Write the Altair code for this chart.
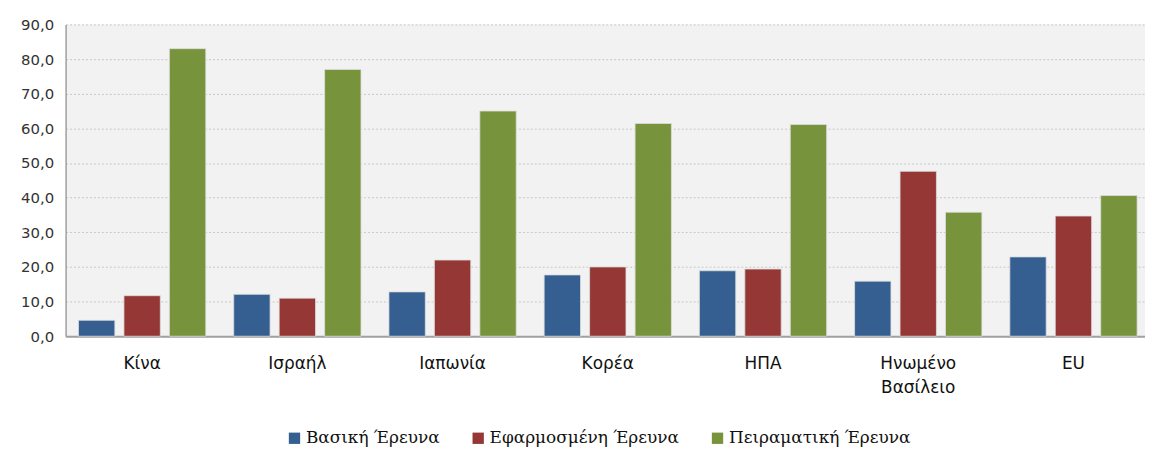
import altair as alt
import pandas as pd

countries = ["Κίνα", "Ισραήλ", "Ιαπωνία", "Κορέα", "ΗΠΑ", "Ηνωμένο Βασίλειο", "EU"]
series = ["Βασική Έρευνα", "Εφαρμοσμένη Έρευνα", "Πειραματική Έρευνα"]
basic = [4.6, 12.1, 12.8, 17.7, 18.9, 15.9, 22.9]
applied = [11.7, 11.0, 22.0, 20.0, 19.4, 47.6, 34.7]
experimental = [83.0, 77.0, 65.0, 61.4, 61.1, 35.8, 40.6]
colors = ["#365F91", "#953735", "#77933C"]

rows = []
for s, vals in zip(series, [basic, applied, experimental]):
    for c, v in zip(countries, vals):
        rows.append({"country": c, "series": s, "value": v})
df = pd.DataFrame(rows)

chart = alt.Chart(df).mark_bar(stroke="#DDDDDD", strokeWidth=0.8).encode(
    x=alt.X("country:N", sort=countries, title=None,
            scale=alt.Scale(paddingInner=0.18, paddingOuter=0.067, align=0.62),
            axis=alt.Axis(labelAngle=0, labelFont="DejaVu Sans", labelFontSize=17,
                          labelColor="#111111", labelPadding=19, ticks=False,
                          domainColor="#A0A0A0", domainWidth=2, labelLineHeight=25,
                          labelExpr="datum.label == 'Ηνωμένο Βασίλειο' ? ['Ηνωμένο', 'Βασίλειο'] : datum.label")),
    xOffset=alt.XOffset("series:N", sort=series, scale=alt.Scale(paddingInner=0.2)),
    y=alt.Y("value:Q", title=None,
            scale=alt.Scale(domain=[0, 90], nice=False),
            axis=alt.Axis(values=[0, 10, 20, 30, 40, 50, 60, 70, 80, 90],
                          labelExpr="replace(format(datum.value, '.1f'), '.', ',')",
                          labelFont="DejaVu Sans", labelFontSize=15, labelColor="#333333",
                          ticks=False, labelPadding=12, domainColor="#A0A0A0", domainWidth=1.5,
                          gridColor="#C8C8C8", gridDash=[2, 2], gridWidth=1)),
    color=alt.Color("series:N", sort=series, title=None,
                    scale=alt.Scale(domain=series, range=colors),
                    legend=alt.Legend(orient="none", legendX=222, legendY=408, direction="horizontal",
                                      symbolType="square", symbolSize=130, symbolStrokeWidth=0,
                                      labelFont="DejaVu Serif", labelFontSize=17, labelColor="#111111",
                                      columnPadding=30, labelLimit=400, labelOffset=3)),
).properties(
    width=1087, height=314,
    autosize=alt.AutoSizeParams(type="none"),
    padding={"left": 58, "top": 15, "right": 0, "bottom": 110},
).configure_view(fill="#F2F2F2", stroke=None)

chart.save("out.html", embed_options={"renderer": "svg", "actions": False})
